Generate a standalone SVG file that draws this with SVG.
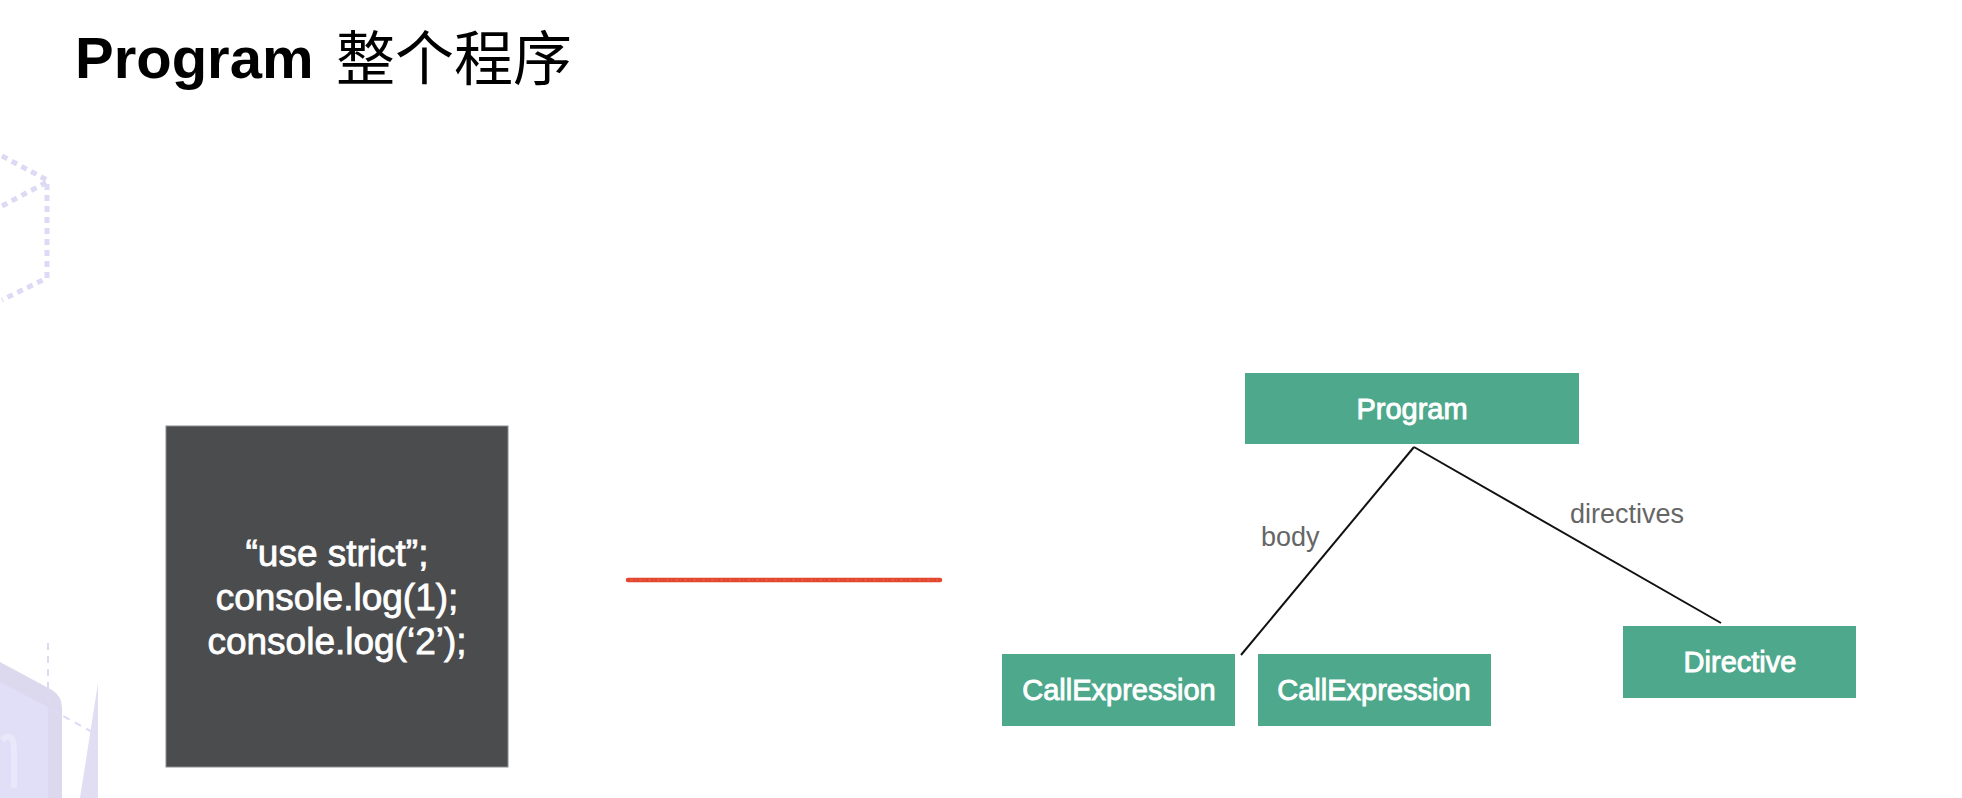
<svg xmlns="http://www.w3.org/2000/svg" width="1962" height="798" viewBox="0 0 1962 798">
<style>
  .node rect { fill: #4da88c; }
  .node text { fill: #ffffff; font-family: "Liberation Sans", Arial, sans-serif; font-size: 29px; text-anchor: middle; stroke: #ffffff; stroke-width: 0.9px; }
  .edge { stroke: #111111; stroke-width: 2; fill: none; }
  .elabel { fill: #666666; font-family: "Liberation Sans", Arial, sans-serif; font-size: 27px; }
  .code { fill: #ffffff; font-family: "Liberation Sans", Arial, sans-serif; font-size: 37px; text-anchor: middle; stroke: #ffffff; stroke-width: 0.8px; }
  .deco { stroke: #dcdaf5; fill: none; stroke-width: 5; stroke-dasharray: 6 5; }
</style>
<rect x="0" y="0" width="1962" height="798" fill="#ffffff"/>

<!-- background decorations -->
<g id="decoration">
  <path class="deco" d="M2 156 L47 180 L47 278 L2 300"/>
  <path class="deco" d="M2 206 L47 182"/>
  <path d="M0 662 L52 690 Q62 696 62 708 L62 798 L0 798 Z" fill="#dcd8ee"/>
  <path d="M0 682 L48 707 L48 798 L0 798 Z" fill="#e1dff7"/>
  <path d="M2 740 Q14 730 14 750 L14 788" stroke="#e9e8fa" stroke-width="6" fill="none"/>
  <line x1="48" y1="643" x2="48" y2="710" stroke="#dcdaf5" stroke-width="2" stroke-dasharray="7 6"/>
  <line x1="52" y1="710" x2="94" y2="733" stroke="#dcdaf5" stroke-width="2" stroke-dasharray="7 6"/>
  <path d="M98 683 L98 798 L80 798 Z" fill="#e1ddf3"/>
</g>

<!-- title -->
<text x="75" y="78" font-family="'Liberation Sans', Arial, 'Noto Sans CJK SC', sans-serif" font-size="58" fill="#000000"><tspan font-weight="bold">Program</tspan><tspan x="336" y="80" font-family="'Noto Sans CJK SC', 'Noto Sans CJK TC', sans-serif" font-size="59">整个程序</tspan></text>

<!-- code box -->
<g id="code-box">
  <rect x="166" y="426" width="342" height="341" fill="#4b4c4e" stroke="#8c8c8c" stroke-width="1"/>
  <text class="code" x="337" y="566">“use strict”;</text>
  <text class="code" x="337" y="610">console.log(1);</text>
  <text class="code" x="337" y="654">console.log(‘2’);</text>
</g>

<!-- red stroke -->
<g id="transform-line">
  <line x1="628" y1="580" x2="940" y2="580" stroke="#e2462f" stroke-width="4.5" stroke-linecap="round"/>
  <line x1="630" y1="580" x2="938" y2="580" stroke="#f06a50" stroke-width="1.5" stroke-dasharray="3 2 1 3" opacity="0.6"/>
</g>

<!-- connectors -->
<g id="connectors">
  <line class="edge" x1="1414" y1="447" x2="1241" y2="655"/>
  <line class="edge" x1="1414" y1="447" x2="1721" y2="623"/>
  <text class="elabel" x="1261" y="546">body</text>
  <text class="elabel" x="1570" y="523">directives</text>
</g>

<!-- nodes -->
<g id="node-program" class="node">
  <rect x="1245" y="373" width="334" height="71"/>
  <text x="1412" y="419">Program</text>
</g>
<g id="node-callexpression-1" class="node">
  <rect x="1002" y="654" width="233" height="72"/>
  <text x="1119" y="700">CallExpression</text>
</g>
<g id="node-callexpression-2" class="node">
  <rect x="1258" y="654" width="233" height="72"/>
  <text x="1374" y="700">CallExpression</text>
</g>
<g id="node-directive" class="node">
  <rect x="1623" y="626" width="233" height="72"/>
  <text x="1740" y="672">Directive</text>
</g>
</svg>
